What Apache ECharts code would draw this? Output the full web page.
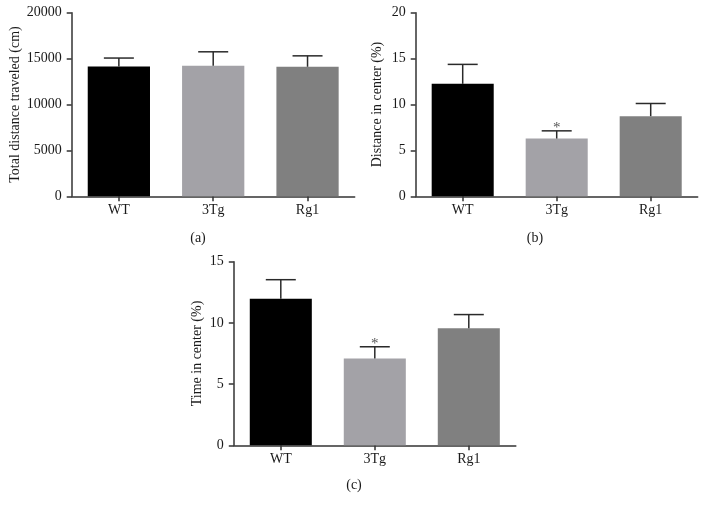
<!DOCTYPE html>
<html>
<head>
<meta charset="utf-8">
<script src="https://cdn.jsdelivr.net/npm/echarts@6/dist/echarts.min.js"></script>
<style>
html,body{margin:0;padding:0;background:#fff;}
#chart{width:706px;height:514px;}
</style>
</head>
<body>
<div id="chart"></div>
<script>
// ---- data ----
var categories = ['WT', '3Tg', 'Rg1'];
var barColors = ['#000000', '#a3a2a7', '#808080'];

var distanceMean = [14150, 14220, 14110];
var distanceUpper = [15060, 15740, 15300];

var centerDistMean = [12.25, 6.29, 8.73];
var centerDistUpper = [14.37, 7.13, 10.11];

var centerTimeMean = [11.98, 7.09, 9.57];
var centerTimeUpper = [13.53, 8.05, 10.68];

var sigMarks = ['', '*', ''];

var yNames = ['Total distance traveled (cm)', 'Distance in center (%)', 'Time in center (%)'];
var yMax = [20000, 20, 15];
var yInterval = [5000, 5, 5];
var panelLabels = ['(a)', '(b)', '(c)'];

// ---- chart ----
var FONT = "'Liberation Serif', 'Times New Roman', serif";
var AX = '#333333';
var chart = echarts.init(document.getElementById('chart'));

var grids = [
  {left: 71.7, top: 12.7, width: 283, height: 183.6},
  {left: 415.7, top: 12.7, width: 282, height: 183.6},
  {left: 233.8, top: 261.7, width: 282, height: 183.6}
];
var nameGaps = [47, 31, 29];

var means = [distanceMean, centerDistMean, centerTimeMean];
var uppers = [distanceUpper, centerDistUpper, centerTimeUpper];

var xAxes = [], yAxes = [], series = [];
for (var k = 0; k < 3; k++) {
  xAxes.push({
    type: 'category', gridIndex: k, data: categories,
    axisLine: {lineStyle: {color: AX, width: 1.5}},
    axisTick: {show: true, alignWithLabel: true, length: 5, lineStyle: {color: AX, width: 1.5}},
    axisLabel: {fontFamily: FONT, fontSize: 14, color: '#1a1a1a', margin: 7}
  });
  yAxes.push({
    type: 'value', gridIndex: k, min: 0, max: yMax[k], interval: yInterval[k],
    name: yNames[k], nameLocation: 'middle', nameGap: nameGaps[k],
    nameTextStyle: {fontFamily: FONT, fontSize: 14, color: '#1a1a1a'},
    axisLine: {show: true, lineStyle: {color: AX, width: 1.5}},
    axisTick: {show: true, length: 5, lineStyle: {color: AX, width: 1.5}},
    axisLabel: {fontFamily: FONT, fontSize: 14, color: '#1a1a1a', margin: 10,
      formatter: function (v) { return String(v); }},
    splitLine: {show: false}
  });
  series.push({
    type: 'bar', xAxisIndex: k, yAxisIndex: k,
    barCategoryGap: '34%',
    data: means[k].map(function (v, i) {
      return {value: v, itemStyle: {color: barColors[i]}};
    }),
    z: 2
  });
  series.push({
    type: 'custom', xAxisIndex: k, yAxisIndex: k, z: 3,
    data: means[k].map(function (v, i) { return [i, v, uppers[k][i]]; }),
    renderItem: (function (panel) {
      return function (params, api) {
        var i = api.value(0);
        var p0 = api.coord([i, api.value(1)]);
        var p1 = api.coord([i, api.value(2)]);
        var half = 15;
        var st = {stroke: '#2a2a2a', lineWidth: 1.5};
        var children = [
          {type: 'line', shape: {x1: p0[0], y1: p0[1], x2: p1[0], y2: p1[1]}, style: st},
          {type: 'line', shape: {x1: p1[0] - half, y1: p1[1], x2: p1[0] + half, y2: p1[1]}, style: st}
        ];
        if (panel > 0 && sigMarks[i]) {
          children.push({
            type: 'text',
            style: {text: sigMarks[i], x: p1[0], y: p1[1] - 3, align: 'center', verticalAlign: 'middle',
              font: "15px 'Liberation Serif', serif", fill: '#555555'}
          });
        }
        return {type: 'group', children: children};
      };
    })(k)
  });
}

var labelPos = [[198, 238], [535, 238], [354, 485]];
var graphics = panelLabels.map(function (t, i) {
  return {type: 'text', x: labelPos[i][0], y: labelPos[i][1],
    style: {text: t, font: "14px 'Liberation Serif', serif", fill: '#1a1a1a',
      align: 'center', verticalAlign: 'middle'}};
});

chart.setOption({
  animation: false,
  backgroundColor: '#ffffff',
  grid: grids,
  xAxis: xAxes,
  yAxis: yAxes,
  series: series,
  graphic: graphics
});
</script>
</body>
</html>
